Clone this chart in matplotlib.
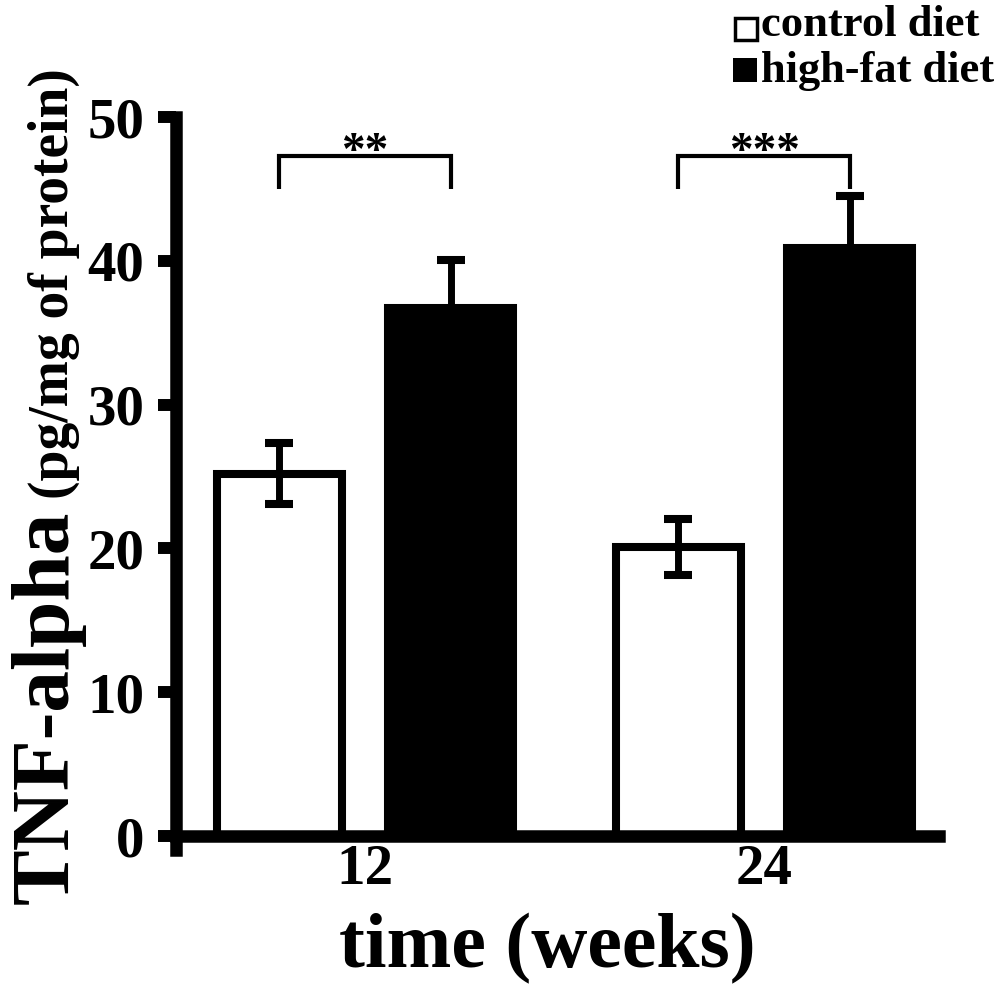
import matplotlib
matplotlib.use("Agg")
import matplotlib.pyplot as plt
from matplotlib.patches import Rectangle

# data
weeks = ["12", "24"]
control_mean = [25.2, 20.1]
control_sem = [2.1, 1.95]
highfat_mean = [36.7, 40.9]
highfat_sem = [3.35, 3.6]
sig_labels = ["**", "***"]
sig_top = [47.3, 47.3]
sig_leg = [45.0, 45.0]
legend_labels = ["control diet", "high-fat diet"]

W, H = 1002, 990


def fx(px):
    return px / W


def fy(py):
    return 1 - py / H


plt.rcParams["font.family"] = ["Liberation Serif", "DejaVu Serif"]
plt.rcParams["font.weight"] = "bold"
plt.rcParams["axes.labelweight"] = "bold"

fig = plt.figure(figsize=(W / 100, H / 100), dpi=100)
ax = fig.add_axes([fx(176), fy(850.4), (939 - 176) / W, (850.4 - 117) / H])

pos = [0, 1]
off = 0.215
bw = 0.313
xc = [p - off for p in pos]
xh = [p + off for p in pos]

ax.bar(xc, control_mean, bw, color="white", edgecolor="black", linewidth=5.8,
       yerr=control_sem, capsize=10,
       error_kw=dict(elinewidth=5, capthick=5.8, ecolor="black"))
ax.bar(xh, highfat_mean, bw, color="black", edgecolor="black", linewidth=5.8,
       yerr=highfat_sem, capsize=10,
       error_kw=dict(elinewidth=5, capthick=5.8, ecolor="black"))

# significance brackets
for i in range(len(pos)):
    x1, x2 = xc[i], xh[i]
    ax.plot([x1, x1, x2, x2], [sig_leg[i], sig_top[i], sig_top[i], sig_leg[i]],
            color="black", lw=3, solid_joinstyle="miter", solid_capstyle="butt")
    ax.text((x1 + x2) / 2, sig_top[i] - 0.55, sig_labels[i],
            ha="center", va="baseline", fontsize=34)

# axes styling
for s in ["top", "right"]:
    ax.spines[s].set_visible(False)
for s in ["left", "bottom"]:
    ax.spines[s].set_linewidth(9)
    ax.spines[s].set_capstyle("projecting")
ax.spines["bottom"].set_position(("data", 0))

ax.set_xlim(-0.4737, 1.4386)
ax.set_ylim(-1.0, 50)
ax.set_yticks(range(0, 51, 10))
ax.set_xticks(pos, weeks)
ax.tick_params(axis="y", length=13.3, width=8.6, pad=9.4, labelsize=41, direction="out")
ax.tick_params(axis="x", length=0, pad=6, labelsize=41)

ax.set_xlabel("time (weeks)", fontsize=56, fontweight="bold")
ax.xaxis.set_label_coords(0.486, -0.159)
ax.xaxis.label.set_va("baseline")

# y label in two sizes, second part placed after the first
t1 = fig.text(fx(68), fy(904), "TNF-alpha", rotation=90, rotation_mode="anchor",
              ha="left", va="baseline", fontsize=60)
fig.canvas.draw()
bb = t1.get_window_extent()
top_px = H - bb.y1
fig.text(fx(68), fy(top_px - 12), "(pg/mg of protein)", rotation=90, rotation_mode="anchor",
         ha="left", va="baseline", fontsize=40)

# legend drawn by hand
fig.patches.append(Rectangle((fx(734.5), fy(39.5)), 22 / W, 21 / H, transform=fig.transFigure,
                             facecolor="white", edgecolor="black", lw=2.5))
fig.patches.append(Rectangle((fx(733), fy(82)), 24 / W, 24 / H, transform=fig.transFigure,
                             facecolor="black", edgecolor="none"))
fig.text(fx(761), fy(36), legend_labels[0], ha="left", va="baseline", fontsize=32)
fig.text(fx(761), fy(82), legend_labels[1], ha="left", va="baseline", fontsize=32)

fig.savefig("out.png", dpi=100)
